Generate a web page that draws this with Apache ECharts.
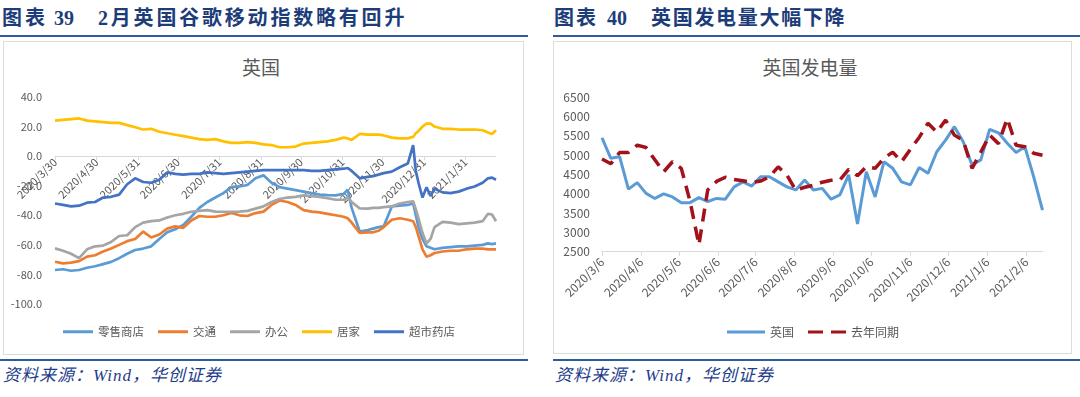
<!DOCTYPE html>
<html><head><meta charset="utf-8">
<script src="https://cdn.jsdelivr.net/npm/echarts@6/dist/echarts.min.js"></script>
<style>
body{margin:0;width:1080px;height:397px;background:#fff;position:relative;overflow:hidden;font-family:"Noto Sans CJK SC",sans-serif;}
.hd{position:absolute;top:7px;font-family:"Liberation Serif","Noto Sans CJK SC",serif;font-weight:bold;font-size:20px;line-height:22px;color:#1d3d7a;white-space:nowrap;}
.ln{position:absolute;height:2px;background:#2a5ba3;}
.box{position:absolute;border:1px solid #dcdcdc;box-sizing:border-box;}
.ft{position:absolute;top:366px;font-style:italic;font-size:17px;line-height:20px;color:#1d3d8a;font-family:"Liberation Serif","Noto Sans CJK SC",serif;white-space:nowrap;letter-spacing:1px;}
.ct{position:absolute;font-size:19px;line-height:20px;color:#595959;transform:translateX(-50%);top:57px;white-space:nowrap;}
#chart{position:absolute;left:0;top:0;width:1080px;height:397px;}
</style></head>
<body>
<div class="hd" style="left:2px;letter-spacing:3px">图表</div>
<div class="hd" style="left:54px">39</div>
<div class="hd" style="left:98px;letter-spacing:2.8px">2月英国谷歌移动指数略有回升</div>
<div class="ln" style="left:0;top:35px;width:528px"></div>
<div class="box" style="left:3px;top:41px;width:521px;height:314px"></div>
<div class="ln" style="left:0;top:359px;width:528px"></div>
<div class="ft" style="left:3px">资料来源：Wind，华创证券</div>
<div class="ct" style="left:261px">英国</div>

<div class="hd" style="left:554px;letter-spacing:2px">图表</div>
<div class="hd" style="left:607px">40</div>
<div class="hd" style="left:651px;letter-spacing:1.7px">英国发电量大幅下降</div>
<div class="ln" style="left:553px;top:35px;width:527px"></div>
<div class="box" style="left:553px;top:41px;width:519px;height:313px"></div>
<div class="ln" style="left:553px;top:359px;width:527px"></div>
<div class="ft" style="left:555px">资料来源：Wind，华创证券</div>
<div class="ct" style="left:810px">英国发电量</div>

<div id="chart"></div>
<script>
// ---------- Left chart: UK Google mobility ----------
const leftDates = ['2020-03-30','2020-04-05','2020-04-11','2020-04-17','2020-04-23','2020-04-29','2020-05-05','2020-05-11','2020-05-17','2020-05-23','2020-05-29','2020-06-04','2020-06-10','2020-06-16','2020-06-22','2020-06-28','2020-07-04','2020-07-10','2020-07-16','2020-07-22','2020-07-28','2020-08-03','2020-08-09','2020-08-15','2020-08-21','2020-08-27','2020-09-02','2020-09-08','2020-09-14','2020-09-20','2020-09-26','2020-10-02','2020-10-08','2020-10-14','2020-10-20','2020-10-26','2020-11-01','2020-11-04','2020-11-07','2020-11-13','2020-11-19','2020-11-23','2020-11-27','2020-12-01','2020-12-07','2020-12-13','2020-12-19','2020-12-23','2020-12-25','2020-12-27','2020-12-30','2021-01-02','2021-01-05','2021-01-08','2021-01-14','2021-01-20','2021-01-26','2021-02-01','2021-02-07','2021-02-13','2021-02-17','2021-02-20','2021-02-23'];
const retail = [-77,-76.5,-77.5,-77,-75.5,-74.5,-73,-71.5,-69,-66,-63.5,-62.5,-61,-56,-51.5,-49.5,-46.5,-41,-35,-31,-28,-25,-21,-20.5,-19.5,-15,-13,-18,-21,-22,-23,-24,-25,-26,-26.3,-26.5,-25.5,-22.6,-35,-51,-50,-49,-48,-47.5,-34,-33.5,-33,-32,-40,-48,-56,-61,-62,-63,-62,-61.5,-61,-61,-60.5,-60,-59,-59.5,-59];
const transit = [-71.4,-72.5,-72,-71,-68,-67,-64.5,-62.5,-60,-57.5,-56,-51,-55,-53,-49,-47.5,-48.5,-43.5,-40.5,-41,-41,-40,-38.5,-40,-40.5,-38.5,-37.5,-33,-30,-31,-33,-36.5,-37.5,-38,-39,-40,-41,-42,-45,-52,-51.5,-51.5,-50.5,-48,-43,-42,-43,-44,-48,-54,-63,-68,-67,-65.5,-64.5,-64,-64,-63,-62.5,-62.5,-63,-63,-63];
const workplace = [-62.4,-64,-66,-69,-63,-61,-60.5,-58,-54,-53.5,-48,-45,-44,-43.5,-41.5,-40,-39,-37.6,-37,-36.5,-37.5,-37.6,-37.6,-37.5,-37,-35.5,-34,-31,-29,-28,-27.5,-26.5,-27,-27.5,-28.5,-29.5,-29.5,-28,-31,-35.3,-35.5,-35,-35,-34.5,-34,-32,-31,-30.5,-36,-42,-52,-59,-56,-48,-44.5,-45,-46,-45.5,-45,-44,-39,-39.5,-44];
const home = [24,24.5,25,25.5,24,23.5,23,22.5,22.5,21,19.5,18,18.5,16.5,15.5,14.5,13.5,12.5,11.5,11,11.5,10,9,9,9.5,9,8,7.5,6,6,6.5,8.5,9,9.5,10,11,12.5,12,11,15,14.5,14.5,14.5,14,12.5,12,12,13,15.5,17,20,22,22,20,18.5,18.5,18,18,18,17.5,16,15,17.5];
const grocery = [-32,-33,-34,-33.5,-31.5,-31,-28,-27.5,-26,-19,-15,-17.5,-18,-16,-11,-12,-12.5,-12,-12,-11,-11.5,-12,-11.5,-11,-10.5,-10,-9.5,-9.4,-9.5,-9.5,-9.5,-9.5,-10,-10,-9.5,-9,-8.5,-8,-10,-15,-14,-13.5,-12.5,-11.5,-10.5,-7.5,-5,7.5,-10,-18,-28,-21,-27,-22,-24.5,-25,-24,-22,-20.5,-18,-15,-14.5,-16];
const leftTickLabels = ['2020/3/30','2020/4/30','2020/5/31','2020/6/30','2020/7/31','2020/8/31','2020/9/30','2020/10/31','2020/11/30','2020/12/31','2021/1/31'];

// ---------- Right chart: UK power generation ----------
const rightDates = ['2020-03-06','2020-03-13','2020-03-20','2020-03-27','2020-04-03','2020-04-10','2020-04-17','2020-04-24','2020-05-01','2020-05-08','2020-05-15','2020-05-22','2020-05-29','2020-06-05','2020-06-12','2020-06-19','2020-06-26','2020-07-03','2020-07-10','2020-07-17','2020-07-24','2020-07-31','2020-08-07','2020-08-14','2020-08-21','2020-08-28','2020-09-04','2020-09-11','2020-09-18','2020-09-25','2020-10-02','2020-10-09','2020-10-16','2020-10-23','2020-10-30','2020-11-06','2020-11-13','2020-11-20','2020-11-27','2020-12-04','2020-12-11','2020-12-18','2020-12-25','2021-01-01','2021-01-08','2021-01-15','2021-01-22','2021-01-29','2021-02-05','2021-02-12','2021-02-19'];
const ukPower = [5450,4920,4960,4120,4290,4010,3880,4000,3920,3770,3770,3900,3800,3880,3860,4180,4310,4200,4440,4440,4310,4180,4100,4360,4100,4140,3860,3970,4490,3220,4570,3920,4830,4660,4310,4230,4680,4530,5090,5390,5740,5350,4750,4880,5670,5580,5310,5070,5220,4440,3580];
const lastYear = [4900,4780,5070,5070,5260,5200,4880,4570,4830,4660,3800,2680,4100,4320,4430,4370,4340,4290,4330,4440,4700,4480,4090,4170,4220,4300,4350,4360,4630,4470,4700,4660,4920,5080,4830,5150,5460,5830,5600,5910,5520,5380,4660,5080,5520,5300,5950,5260,5220,5050,5000];
const rightTickLabels = ['2020/3/6','2020/4/6','2020/5/6','2020/6/6','2020/7/6','2020/8/6','2020/9/6','2020/10/6','2020/11/6','2020/12/6','2021/1/6','2021/2/6'];

const DAY = 86400000;
function parseDate(s){const p=s.split(/[-\/]/).map(Number);return Date.UTC(p[0],p[1]-1,p[2]);}
const L0 = parseDate(leftDates[0]);
const R0 = parseDate(rightDates[0]);
const lx = s => (parseDate(s)-L0)/DAY;
const rx = s => (parseDate(s)-R0)/DAY;
const leftTicks = leftTickLabels.map(lx);
const rightTicks = rightTickLabels.map(rx);
const leftLabelMap = {}; leftTickLabels.forEach((s,i)=>leftLabelMap[leftTicks[i]]=s);
const rightLabelMap = {}; rightTickLabels.forEach((s,i)=>rightLabelMap[rightTicks[i]]=s);
const leftMax = lx(leftDates[leftDates.length-1]);
const rightMax = rx(rightDates[rightDates.length-1]);

// left grid geometry; x axis sits on the y=0 line (offset from grid bottom via the y scale)
const LG = {left:55, top:97, width:441, height:207};
const yMinL = -100, yMaxL = 40;
const zeroOffset = -LG.height * (0 - yMinL) / (yMaxL - yMinL);

const gray = '#595959';
const axisLineColor = '#d9d9d9';
const lineIcon = 'path://M0,0H30V3H0Z';
const dashIcon = 'path://M0,0H15V3H0ZM23,0H38V3H23Z';
function leftSeries(name, arr, color){
  return {type:'line', name, xAxisIndex:0, yAxisIndex:0, symbol:'none',
    data: leftDates.map((d,i)=>[lx(d), arr[i]]),
    lineStyle:{width:2.7, color}, itemStyle:{color}};
}

const chart = echarts.init(document.getElementById('chart'), null, {renderer:'canvas'});
chart.setOption({
  animation:false,
  grid:[
    LG,
    {left:602, top:97.3, width:440.5, height:154.4}
  ],
  xAxis:[
    {gridIndex:0, type:'value', min:0, max:leftMax, offset:zeroOffset,
      axisLine:{show:true, onZero:false, lineStyle:{color:axisLineColor, width:1}},
      axisTick:{show:true, customValues:leftTicks, length:4, lineStyle:{color:axisLineColor}},
      axisLabel:{customValues:leftTicks, formatter:v=>leftLabelMap[Math.round(v)]||'', rotate:45, fontSize:11, color:gray, margin:4, fontFamily:'Noto Sans CJK SC'},
      splitLine:{show:false}},
    {gridIndex:1, type:'value', min:0, max:rightMax,
      axisLine:{show:true, onZero:false, lineStyle:{color:axisLineColor, width:1}},
      axisTick:{show:true, customValues:rightTicks, length:4, lineStyle:{color:axisLineColor}},
      axisLabel:{customValues:rightTicks, formatter:v=>rightLabelMap[Math.round(v)]||'', rotate:45, fontSize:12, color:gray, margin:8, fontFamily:'Noto Sans CJK SC'},
      splitLine:{show:false}}
  ],
  yAxis:[
    {gridIndex:0, type:'value', min:yMinL, max:yMaxL, interval:20,
      axisLine:{show:false, onZero:false}, axisTick:{show:false}, splitLine:{show:false},
      axisLabel:{formatter:v=>v.toFixed(1), fontSize:11, color:gray, margin:13, fontFamily:'Noto Sans CJK SC'}},
    {gridIndex:1, type:'value', min:2500, max:6500, interval:500,
      axisLine:{show:false, onZero:false}, axisTick:{show:false}, splitLine:{show:false},
      axisLabel:{formatter:v=>String(v), fontSize:12, color:gray, margin:12, fontFamily:'Noto Sans CJK SC'}}
  ],
  legend:[
    {data:['零售商店','交通','办公','居家','超市药店'].map(n=>({name:n, icon:lineIcon})), left:63, top:326, padding:0, itemWidth:30, itemHeight:3, itemGap:14,
      textStyle:{fontSize:11.5, color:gray, fontFamily:'Noto Sans CJK SC'}},
    {data:[{name:'英国', icon:'path://M0,0H38V3H0Z'},{name:'去年同期', icon:dashIcon}], left:727, top:326, padding:0, itemWidth:38, itemHeight:3, itemGap:14,
      textStyle:{fontSize:12, color:gray, fontFamily:'Noto Sans CJK SC'}}
  ],
  series:[
    leftSeries('零售商店', retail, '#5b9bd5'),
    leftSeries('交通', transit, '#ed7d31'),
    leftSeries('办公', workplace, '#a5a5a5'),
    leftSeries('居家', home, '#ffc000'),
    leftSeries('超市药店', grocery, '#4472c4'),
    {type:'line', name:'英国', xAxisIndex:1, yAxisIndex:1, symbol:'none',
      data: rightDates.map((d,i)=>[rx(d), ukPower[i]]),
      lineStyle:{width:3, color:'#5b9bd5'}, itemStyle:{color:'#5b9bd5'}},
    {type:'line', name:'去年同期', xAxisIndex:1, yAxisIndex:1, symbol:'none',
      data: rightDates.map((d,i)=>[rx(d), lastYear[i]]),
      lineStyle:{width:3.5, color:'#a3111a', type:[13,8]}, itemStyle:{color:'#a3111a'}}
  ]
});
</script>
</body></html>
